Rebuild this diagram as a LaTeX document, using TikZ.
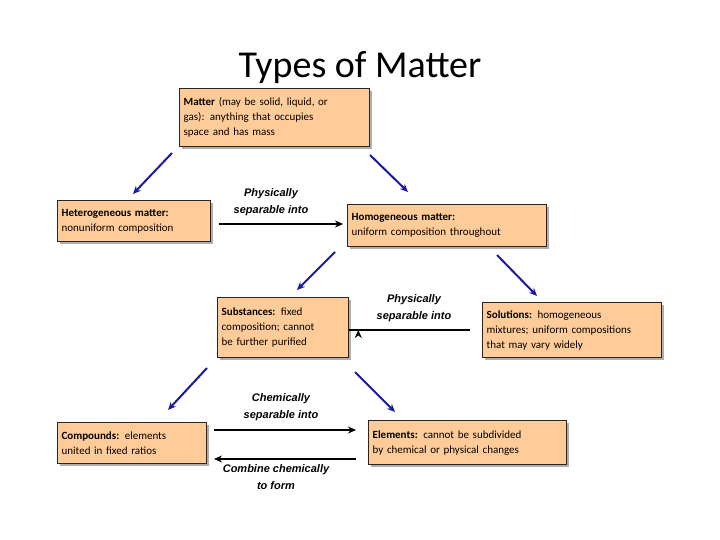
\documentclass[tikz,border=0pt]{standalone}
\usepackage{fontspec}
\setmainfont{Carlito}
\newfontfamily\lblfont{Liberation Sans}
\usetikzlibrary{shadows,arrows.meta}
\definecolor{boxfill}{HTML}{FFCC99}
\definecolor{arrblue}{HTML}{1A1AA0}
\begin{document}
\begin{tikzpicture}[x=1pt,y=-1pt,
  box/.style={draw=black!85,line width=1.3pt,fill=boxfill,anchor=north west,align=left,
    font=\fontsize{11}{15}\selectfont,inner xsep=4pt,inner ysep=3pt,
    drop shadow={shadow xshift=2.5pt,shadow yshift=-2.5pt,fill=black!45,opacity=0.7}},
  barr/.style={draw=arrblue,line width=2pt,-{Stealth[length=8pt,width=7pt]}},
  karr/.style={draw=black,line width=2pt,-{Stealth[length=8pt,width=7pt]}},
  lbl/.style={font=\lblfont\bfseries\itshape\fontsize{11}{17}\selectfont,align=center}]
\useasboundingbox (0,0) rectangle (720,540);
\node (title) at (360,68) {\fontsize{38}{40}\selectfont Types of Matter};
\node[box,minimum width=190pt,minimum height=58pt,text width=182pt] (matter) at (179,88)
  {\textbf{Matter} (may be solid, liquid, or\\gas): anything that occupies\\space and has mass};
\node[box,minimum width=153pt,minimum height=41pt,text width=145pt] (het) at (57,200)
  {\textbf{Heterogeneous matter:}\\nonuniform composition};
\node[box,minimum width=199pt,minimum height=42pt,text width=191pt] (hom) at (347,204)
  {\textbf{Homogeneous matter:}\\uniform composition throughout};
\node[box,minimum width=131pt,minimum height=60pt,text width=123pt] (sub) at (217,297)
  {\textbf{Substances:} fixed\\composition; cannot\\be further purified};
\node[box,minimum width=179pt,minimum height=55pt,text width=171pt] (sol) at (482,302)
  {\textbf{Solutions:} homogeneous\\mixtures; uniform compositions\\that may vary widely};
\node[box,minimum width=149pt,minimum height=41pt,text width=141pt] (cmp) at (57,422)
  {\textbf{Compounds:} elements\\united in fixed ratios};
\node[box,minimum width=198pt,minimum height=44pt,text width=190pt] (ele) at (368,420)
  {\textbf{Elements:} cannot be subdivided\\by chemical or physical changes};
\coordinate (a1s) at (172,153); \coordinate (a1e) at (133,194);
\coordinate (a2s) at (370,155); \coordinate (a2e) at (408,192);
\coordinate (a3s) at (335,252); \coordinate (a3e) at (297,290);
\coordinate (a4s) at (497,255); \coordinate (a4e) at (537,296);
\coordinate (a5s) at (207,368); \coordinate (a5e) at (168,410);
\coordinate (a6s) at (355,372); \coordinate (a6e) at (395,412);
\draw[barr] (a1s) -- (a1e);
\draw[barr] (a2s) -- (a2e);
\draw[barr] (a3s) -- (a3e);
\draw[barr] (a4s) -- (a4e);
\draw[barr] (a5s) -- (a5e);
\draw[barr] (a6s) -- (a6e);
\draw[karr] (het.east |- 0,224) ++(8,0) coordinate (k1s) -- (343,224) coordinate (k1e);
\draw[karr] (470,330) coordinate (k2s) -- (sub.east |- 0,330) ++(9,0) coordinate (k2e);
\draw[karr] (214,430) coordinate (k3s) -- (356,430) coordinate (k3e);
\draw[karr] (356,459) coordinate (k4s) -- (214,459) coordinate (k4e);
\node[lbl] (l1) at (271,202) {Physically\\separable into};
\node[lbl] (l2) at (414,308) {Physically\\separable into};
\node[lbl] (l3) at (281,407) {Chemically\\separable into};
\node[lbl] (l4) at (276,477) {Combine chemically\\to form};
\end{tikzpicture}
\end{document}
